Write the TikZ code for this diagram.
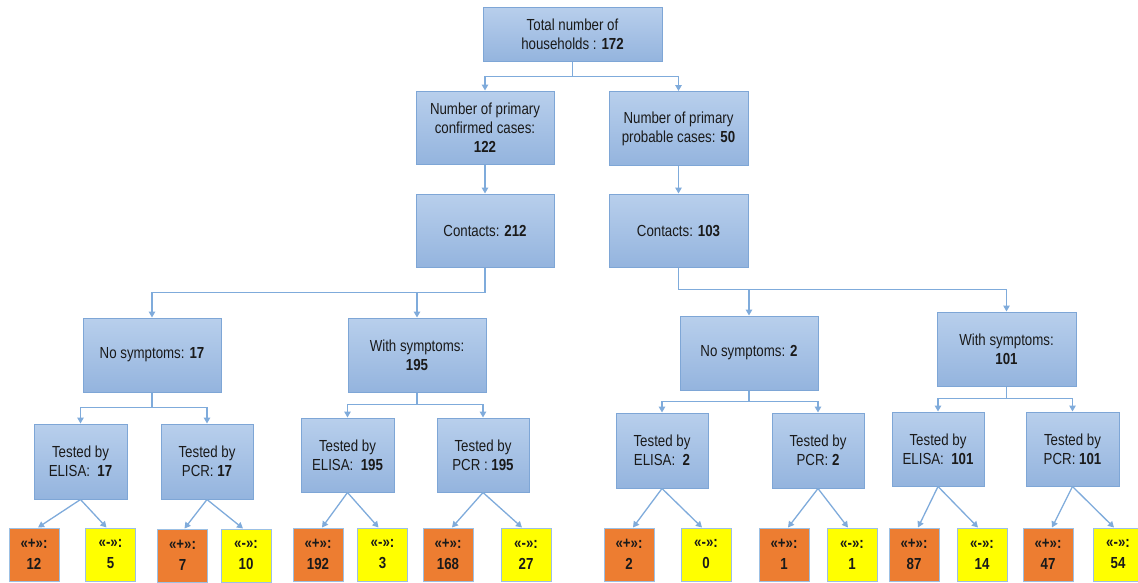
\documentclass[tikz,border=0pt]{standalone}
\usepackage{fontspec}
\setmainfont{Liberation Sans}[FakeStretch=0.83]
\usetikzlibrary{arrows.meta}
\definecolor{boxtop}{HTML}{B8CFEC}
\definecolor{boxbot}{HTML}{94B4DE}
\definecolor{boxline}{HTML}{7EA6D6}
\definecolor{conn}{HTML}{7FABDB}
\definecolor{orangeleaf}{HTML}{ED7D31}
\definecolor{yellowleaf}{HTML}{FFFF00}
\definecolor{leafline}{HTML}{9CC0E4}
\definecolor{txt}{HTML}{1A1A1A}
\tikzset{
  bluebox/.style={draw=boxline, line width=1pt, top color=boxtop, bottom color=boxbot,
    inner sep=0pt, align=center, text=txt, font=\fontsize{16}{19}\selectfont},
  wbox/.style={bluebox, minimum width=#1},
  leafbox/.style={draw=leafline, line width=1pt, inner sep=0pt, align=center, text=txt,
    minimum width=50pt, minimum height=53pt, font=\fontsize{16}{21}\selectfont\bfseries},
  posleaf/.style={leafbox, fill=orangeleaf},
  negleaf/.style={leafbox, fill=yellowleaf},
  link/.style={draw=conn, line width=1.3pt, -{Triangle[width=6.5pt,length=6pt]}, color=conn},
}
\begin{document}
\begin{tikzpicture}[x=1pt,y=1pt]
\useasboundingbox (0,0) rectangle (1138,-582);
\clip (0,0) rectangle (1138,-582);
% level 0
\node[bluebox, minimum width=179pt, minimum height=54pt] (top) at (572.5,-34) {Total number of\\households : \textbf{172}};
% level 1
\node[bluebox, minimum width=138pt, minimum height=73pt] (pc) at (485,-127.5) {Number of primary\\confirmed cases:\\\textbf{122}};
\node[bluebox, minimum width=139pt, minimum height=74pt] (pp) at (678.5,-128.5) {Number of primary\\probable cases: \textbf{50}};
% level 2
\node[bluebox, minimum width=138pt, minimum height=73pt] (ca) at (485,-230.5) {Contacts: \textbf{212}};
\node[bluebox, minimum width=139pt, minimum height=73pt] (cb) at (678.5,-230.5) {Contacts: \textbf{103}};
% level 3
\node[bluebox, minimum width=138pt, minimum height=74pt] (na) at (152,-355) {No symptoms: \textbf{17}};
\node[bluebox, minimum width=138pt, minimum height=74pt] (wa) at (417,-355) {With symptoms:\\\textbf{195}};
\node[bluebox, minimum width=138pt, minimum height=74pt] (nb) at (749,-353) {No symptoms: \textbf{2}};
\node[bluebox, minimum width=139pt, minimum height=74pt] (wb) at (1006.5,-349) {With symptoms:\\\textbf{101}};
% level 4
\node[bluebox, minimum width=93pt, minimum height=75pt] (e1) at (80.5,-461.5) {Tested by\\ELISA:~ \textbf{17}};
\node[bluebox, minimum width=92pt, minimum height=75pt] (t1) at (207,-461.5) {Tested by\\PCR: \textbf{17}};
\node[bluebox, minimum width=93pt, minimum height=74pt] (e2) at (347.5,-455) {Tested by\\ELISA:~ \textbf{195}};
\node[bluebox, minimum width=92pt, minimum height=74pt] (t2) at (483,-455) {Tested by\\PCR : \textbf{195}};
\node[bluebox, minimum width=92pt, minimum height=75pt] (e3) at (662,-450.5) {Tested by\\ELISA:~ \textbf{2}};
\node[bluebox, minimum width=92pt, minimum height=75pt] (t3) at (818,-450.5) {Tested by\\PCR: \textbf{2}};
\node[bluebox, minimum width=92pt, minimum height=74pt] (e4) at (938,-449) {Tested by\\ELISA:~ \textbf{101}};
\node[bluebox, minimum width=93pt, minimum height=74pt] (t4) at (1072.5,-449) {Tested by\\PCR: \textbf{101}};
% leaves
\node[posleaf] (l1) at (34,-554.5) {«+»:\\12};
\node[negleaf] (l2) at (110.5,-554.5) {«-»:\\5};
\node[posleaf] (l3) at (182.5,-555.5) {«+»:\\7};
\node[negleaf] (l4) at (246,-555.5) {«-»:\\10};
\node[posleaf] (l5) at (318,-554.5) {«+»:\\192};
\node[negleaf] (l6) at (382.5,-554.5) {«-»:\\3};
\node[posleaf] (l7) at (448,-554.5) {«+»:\\168};
\node[negleaf] (l8) at (526,-554.5) {«-»:\\27};
\node[posleaf] (l9) at (629,-554.5) {«+»:\\2};
\node[negleaf] (l10) at (706,-554.5) {«-»:\\0};
\node[posleaf] (l11) at (784,-554.5) {«+»:\\1};
\node[negleaf] (l12) at (852,-554.5) {«-»:\\1};
\node[posleaf] (l13) at (914,-554.5) {«+»:\\87};
\node[negleaf] (l14) at (982,-554.5) {«-»:\\14};
\node[posleaf] (l15) at (1048,-554.5) {«+»:\\47};
\node[negleaf] (l16) at (1118,-554.5) {«-»:\\54};
% elbow connectors
\draw[link] (top.south) -- ++(0,-15) -| (pc.north);
\draw[link] (top.south) -- ++(0,-15) -| (pp.north);
\draw[link] (pc.south) -- (ca.north);
\draw[link] (pp.south) -- (cb.north);
\draw[link] (ca.south) -- ++(0,-25) -| (na.north);
\draw[link] (ca.south) -- ++(0,-25) -| (wa.north);
\draw[link] (cb.south) -- ++(0,-22) -| (nb.north);
\draw[link] (cb.south) -- ++(0,-22) -| (wb.north);
\draw[link] (na.south) -- ++(0,-15) -| (e1.north);
\draw[link] (na.south) -- ++(0,-15) -| (t1.north);
\draw[link] (wa.south) -- ++(0,-12) -| (e2.north);
\draw[link] (wa.south) -- ++(0,-12) -| (t2.north);
\draw[link] (nb.south) -- ++(0,-11) -| (e3.north);
\draw[link] (nb.south) -- ++(0,-11) -| (t3.north);
\draw[link] (wb.south) -- ++(0,-12) -| (e4.north);
\draw[link] (wb.south) -- ++(0,-12) -| (t4.north);
% diagonal connectors
\draw[link] (e1.south) -- ([xshift=4pt]l1.north);
\draw[link] (e1.south) -- ([xshift=-4pt]l2.north);
\draw[link] (t1.south) -- ([xshift=2pt]l3.north);
\draw[link] (t1.south) -- ([xshift=-3pt]l4.north);
\draw[link] (e2.south) -- ([xshift=4pt]l5.north);
\draw[link] (e2.south) -- ([xshift=-4pt]l6.north);
\draw[link] (t2.south) -- ([xshift=4pt]l7.north);
\draw[link] (t2.south) -- ([xshift=-4pt]l8.north);
\draw[link] (e3.south) -- ([xshift=4pt]l9.north);
\draw[link] (e3.south) -- ([xshift=-4pt]l10.north);
\draw[link] (t3.south) -- ([xshift=4pt]l11.north);
\draw[link] (t3.south) -- ([xshift=-4pt]l12.north);
\draw[link] (e4.south) -- ([xshift=4pt]l13.north);
\draw[link] (e4.south) -- ([xshift=-4pt]l14.north);
\draw[link] (t4.south) -- ([xshift=4pt]l15.north);
\draw[link] (t4.south) -- ([xshift=-4pt]l16.north);
\end{tikzpicture}
\end{document}
